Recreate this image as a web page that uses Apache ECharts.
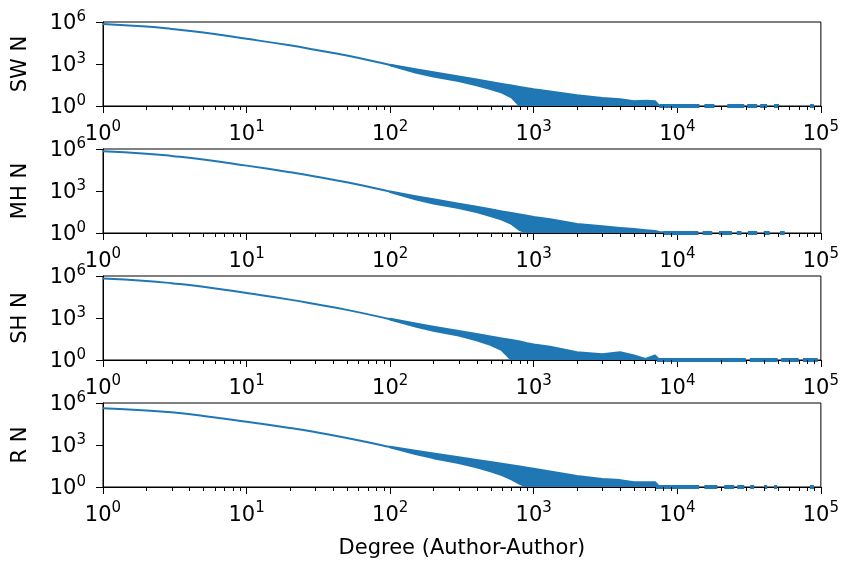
<!DOCTYPE html>
<html>
<head>
<meta charset="utf-8">
<script src="https://cdn.jsdelivr.net/npm/echarts@6/dist/echarts.min.js"></script>
<style>html,body{margin:0;padding:0;background:#fff;}#chart{width:842px;height:561px;}</style>
</head>
<body>
<div id="chart"></div>
<script>
// ---- data ----
const panelNames = ['SW N', 'MH N', 'SH N', 'R N'];
const xTickValues = [1, 10, 100, 1000, 10000, 100000];
const yTickValues = [1, 1000, 1000000];

// smooth head of the distribution
const degreeMain = [1, 2, 3, 5, 10, 20, 30, 50, 100, 150];
const swMain = [720000, 470000, 320000, 175000, 63000, 21500, 10500, 4000, 850, 330];
const mhMain = [680000, 460000, 320000, 180000, 65000, 22000, 11000, 4200, 900, 340];
const shMain = [650000, 440000, 305000, 170000, 60000, 20500, 10000, 3800, 820, 320];
const rMain  = [430000, 295000, 215000, 120000, 46000, 16500, 8500, 3200, 720, 280];

// noisy band (upper / lower envelope of the jittering counts)
const bandDeg = [100, 150, 200, 300, 400, 500, 600, 700, 800, 900, 1000, 1300, 2000, 3000, 4000, 5000, 6000, 7000, 7500, 10000, 14000];
const swUpper = [890, 430, 263, 129, 78, 52, 38, 29, 23, 18.6, 15.5, 11, 5.9, 3.8, 3.0, 2.2, 2.4, 2.2, 1, 1, 1];
const swLower = [800, 250, 126, 60, 30, 16, 9, 4.2, 1, 1, 1, 1, 1, 1, 1, 1, 1, 1, 1, 1, 1];
const mhUpper = [930, 430, 255, 123, 74, 49, 35, 27, 21, 17, 14, 9.5, 4.4, 3.0, 2.3, 1.9, 1.6, 1.4, 1.2, 1, 1];
const mhLower = [830, 260, 130, 62, 31, 16, 9, 4.5, 1.6, 1, 1, 1, 1, 1, 1, 1, 1, 1, 1, 1, 1];
const shUpper = [870, 400, 240, 118, 72, 48, 35, 27, 21, 16, 13, 9, 3.6, 2.6, 3.6, 2.1, 1.2, 2.1, 1, 1, 1];
const shLower = [770, 250, 120, 55, 26, 12, 5, 1, 1, 1, 1, 1, 1, 1, 1, 1, 1, 1, 1, 1, 1];
const rUpper  = [760, 390, 245, 132, 85, 60, 45, 36, 29, 24, 20, 13, 6, 3.8, 3.1, 2.2, 2.2, 2.2, 1, 1, 1];
const rLower  = [680, 230, 115, 52, 26, 13, 7, 3.5, 1.7, 1, 1, 1, 1, 1, 1, 1, 1, 1, 1, 1, 1];

// runs of consecutive degrees with count 1 (start, end)
const swTail = [[7500, 14250], [15450, 18100], [22300, 29250], [30700, 36000], [37760, 42270], [47240, 51150], [83900, 89400]];
const mhTail = [[8000, 14000], [15000, 17500], [19500, 24000], [26000, 28000], [31000, 36000], [40000, 44000], [52000, 56000]];
const shTail = [[7200, 14000], [14000, 30000], [32000, 50000], [53000, 70000], [75000, 95000]];
const rTail  = [[7000, 14200], [15450, 19000], [21250, 24900], [26150, 29250], [32200, 34300], [40250, 42270], [47240, 49550], [83900, 89400]];

// ---- chart ----
const mains = [swMain, mhMain, shMain, rMain];
const uppers = [swUpper, mhUpper, shUpper, rUpper];
const lowers = [swLower, mhLower, shLower, rLower];
const tails = [swTail, mhTail, shTail, rTail];

const minorTicks = [];
for (let k = 0; k < 5; k++) for (let m = 2; m <= 9; m++) minorTicks.push(m * Math.pow(10, k));

const COLOR = '#1f77b4';
const FONT = 'DejaVu Sans';
const tops = [22, 149, 276, 403];
const H = 84;
const LW = 2;

const rich = {
  b: {fontSize: 21, fontFamily: FONT, color: '#000', verticalAlign: 'bottom', lineHeight: 25},
  s: {fontSize: 15, fontFamily: FONT, color: '#000', verticalAlign: 'top', lineHeight: 17}
};
function powLabel(v) {
  const e = Math.round(Math.log10(v));
  return '{b|10}{s|' + e + '}';
}

const grids = [], xAxes = [], yAxes = [], series = [];
for (let i = 0; i < 4; i++) {
  grids.push({left: 103, width: 721, top: tops[i], height: H, show: true, borderColor: '#000', borderWidth: 1, backgroundColor: 'transparent'});
  xAxes.push({
    type: 'log', logBase: 10, gridIndex: i, min: 1, max: 100000,
    axisLine: {show: true, onZero: false, lineStyle: {color: '#000', width: 1}},
    axisTick: {show: true, length: 7, lineStyle: {color: '#000', width: 1}},
    axisLabel: {formatter: powLabel, rich: rich, margin: 14, showMinLabel: true, showMaxLabel: true, color: '#000'},
    splitLine: {show: false},
    name: i === 3 ? 'Degree (Author-Author)' : '',
    nameLocation: 'middle', nameGap: 51,
    nameTextStyle: {fontSize: 21, fontFamily: FONT, color: '#000'}
  });
  yAxes.push({
    type: 'log', logBase: 10, gridIndex: i, min: 1, max: 1000000, interval: 3,
    axisLine: {show: true, onZero: false, lineStyle: {color: '#000', width: 1}},
    axisTick: {show: true, length: 7, lineStyle: {color: '#000', width: 1}},
    axisLabel: {formatter: powLabel, rich: rich, margin: 17, showMinLabel: true, showMaxLabel: true, color: '#000'},
    splitLine: {show: false},
    name: panelNames[i], nameLocation: 'middle', nameGap: 72, nameRotate: 90,
    nameTextStyle: {fontSize: 21, fontFamily: FONT, color: '#000'}
  });

  // smooth head
  series.push({
    type: 'line', xAxisIndex: i, yAxisIndex: i, showSymbol: false, symbol: 'none', smooth: 0.5,
    lineStyle: {color: COLOR, width: LW}, z: 3, clip: true,
    data: degreeMain.map((d, j) => [d, mains[i][j]])
  });
  // noisy band
  const up = uppers[i], lo = lowers[i];
  series.push({
    type: 'custom', xAxisIndex: i, yAxisIndex: i, clip: true, z: 3, silent: true,
    data: [[bandDeg[0], up[0]]],
    renderItem: function (params, api) {
      const pts = [];
      for (let j = 0; j < bandDeg.length; j++) pts.push(api.coord([bandDeg[j], up[j]]));
      for (let j = bandDeg.length - 1; j >= 0; j--) pts.push(api.coord([bandDeg[j], lo[j]]));
      return {type: 'polygon', shape: {points: pts}, style: {fill: COLOR, stroke: COLOR, lineWidth: LW, lineJoin: 'round'}};
    }
  });
  // sparse tail
  const tailData = [];
  tails[i].forEach(seg => { tailData.push([seg[0], 1], [seg[1], 1], [seg[1], '-']); });
  series.push({
    type: 'line', xAxisIndex: i, yAxisIndex: i, showSymbol: false, symbol: 'none', connectNulls: false,
    lineStyle: {color: COLOR, width: 4}, z: 3, clip: true, data: tailData
  });
  // minor x ticks
  series.push({
    type: 'custom', xAxisIndex: i, yAxisIndex: i, clip: false, z: 4, silent: true,
    data: minorTicks.map(v => [v, 1]),
    renderItem: function (params, api) {
      const p = api.coord([api.value(0), 1]);
      return {type: 'line', shape: {x1: Math.round(p[0]) + 0.5, y1: p[1], x2: Math.round(p[0]) + 0.5, y2: p[1] + 4}, style: {stroke: '#000', lineWidth: 1}};
    }
  });
}

const chart = echarts.init(document.getElementById('chart'), null, {renderer: 'canvas'});
chart.setOption({
  animation: false,
  backgroundColor: '#fff',
  textStyle: {fontFamily: FONT},
  grid: grids, xAxis: xAxes, yAxis: yAxes, series: series
});
</script>
</body>
</html>
